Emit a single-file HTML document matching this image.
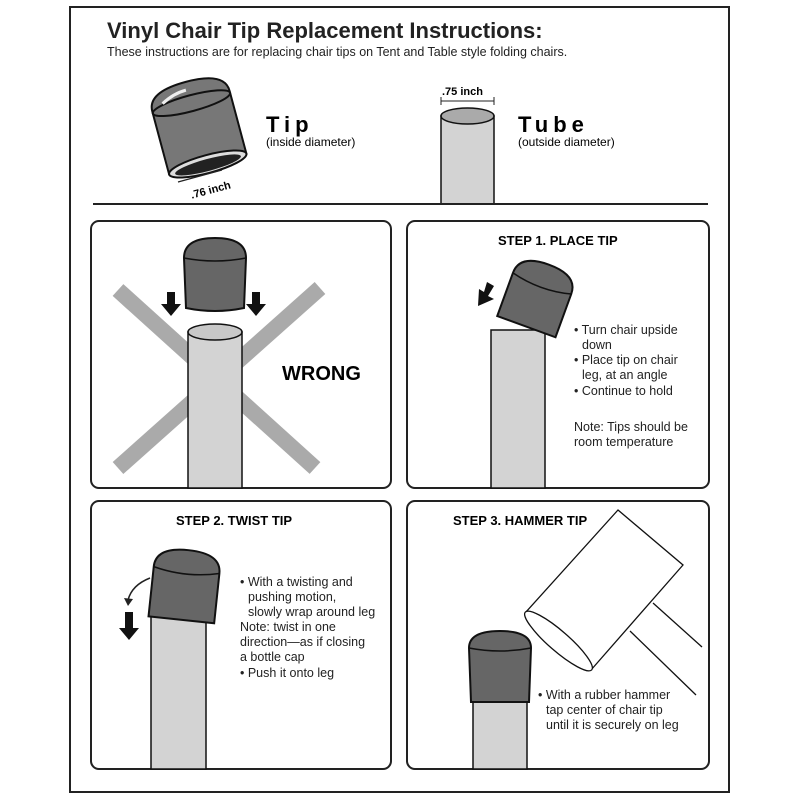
<!DOCTYPE html>
<html><head><style>
html,body{margin:0;padding:0;background:#fff;}
svg{display:block;font-family:"Liberation Sans",sans-serif;}
</style></head><body>
<svg width="800" height="800" viewBox="0 0 800 800" xmlns="http://www.w3.org/2000/svg">
<rect x="70" y="7" width="659" height="785" fill="none" stroke="#222" stroke-width="2"/>
<text x="107" y="38" font-size="22" font-weight="bold" fill="#222">Vinyl Chair Tip Replacement Instructions:</text>
<text x="107" y="56" font-size="12.5" fill="#222">These instructions are for replacing chair tips on Tent and Table style folding chairs.</text>
<!-- tip top -->
<g transform="rotate(-15 200 135)">
<path d="M160 100 Q160 80 200 80 Q240 80 240 100 L240 165 L160 165 Z" fill="#777" stroke="#111" stroke-width="2"/>
<ellipse cx="200" cy="102" rx="40" ry="8" fill="none" stroke="#111" stroke-width="2"/>
<ellipse cx="200" cy="165" rx="40" ry="9" fill="#ddd" stroke="#111" stroke-width="2"/>
<ellipse cx="200" cy="166" rx="34" ry="6" fill="#222"/>
<path d="M172 95 Q185 88 198 88" stroke="#eee" stroke-width="3" fill="none"/>
</g>
<line x1="178" y1="182" x2="222" y2="170" stroke="#222" stroke-width="1.2"/>
<text x="190" y="195" font-size="11" font-weight="bold" transform="rotate(-15 205 190)">.76 inch</text>
<text x="266" y="132" font-size="22" font-weight="bold" letter-spacing="5">Tip</text>
<text x="266" y="146" font-size="12">(inside diameter)</text>
<text x="442" y="95" font-size="11" font-weight="bold">.75 inch</text>
<line x1="441" y1="101" x2="494" y2="101" stroke="#222"/>
<line x1="441" y1="97" x2="441" y2="105" stroke="#222"/><line x1="494" y1="97" x2="494" y2="105" stroke="#222"/>
<rect x="441" y="116" width="53" height="88" fill="#d3d3d3" stroke="#111" stroke-width="1.5"/>
<ellipse cx="467.5" cy="116" rx="26.5" ry="8" fill="#aaa" stroke="#111" stroke-width="1.5"/>
<text x="518" y="132" font-size="22" font-weight="bold" letter-spacing="5">Tube</text>
<text x="518" y="146" font-size="12">(outside diameter)</text>
<line x1="93" y1="204" x2="708" y2="204" stroke="#222" stroke-width="2"/>
<!-- panels -->
<rect x="91" y="221" width="300" height="267" rx="8" fill="none" stroke="#222" stroke-width="2"/>
<rect x="407" y="221" width="302" height="267" rx="8" fill="none" stroke="#222" stroke-width="2"/>
<rect x="91" y="501" width="300" height="268" rx="8" fill="none" stroke="#222" stroke-width="2"/>
<rect x="407" y="501" width="302" height="268" rx="8" fill="none" stroke="#222" stroke-width="2"/>
<!-- wrong -->
<line x1="118" y1="290" x2="315" y2="468" stroke="#aaa" stroke-width="16"/>
<line x1="118" y1="468" x2="320" y2="288" stroke="#aaa" stroke-width="16"/>
<rect x="188" y="332" width="54" height="156" fill="#d3d3d3" stroke="#111" stroke-width="1.5"/>
<ellipse cx="215" cy="332" rx="27" ry="8" fill="#c8c8c8" stroke="#111" stroke-width="1.5"/>
<path d="M184 258 Q184 238 215 238 Q246 238 246 258 L244 308 Q215 314 186 308 Z" fill="#666" stroke="#111" stroke-width="2"/>
<path d="M184 258 Q215 264 246 258" fill="none" stroke="#111" stroke-width="1.5"/>
<path d="M167 292 h8 v12 h6 l-10 12 l-10 -12 h6 z" fill="#111"/>
<path d="M252 292 h8 v12 h6 l-10 12 l-10 -12 h6 z" fill="#111"/>
<text x="282" y="380" font-size="20" font-weight="bold">WRONG</text>
<!-- step1 -->
<text x="498" y="245" font-size="13" font-weight="bold">STEP 1. PLACE TIP</text>
<rect x="491" y="330" width="54" height="158" fill="#d3d3d3" stroke="#111" stroke-width="1.5"/>
<g transform="rotate(20 535 300)">
<path d="M505 282 Q505 262 536 262 Q567 262 567 282 L567 328 L505 328 Z" fill="#666" stroke="#111" stroke-width="2"/>
<path d="M505 282 Q536 290 567 282" fill="none" stroke="#111" stroke-width="1.5"/>
</g>
<path d="M487 282 l7 4 l-6 10 l6 3 l-16 7 l1 -17 l5 3 z" fill="#111"/>
<g font-size="12.5" fill="#222">
<text x="574" y="334">• Turn chair upside</text><text x="582" y="349">down</text>
<text x="574" y="364">• Place tip on chair</text><text x="582" y="379">leg, at an angle</text>
<text x="574" y="395">• Continue to hold</text>
<text x="574" y="431">Note: Tips should be</text><text x="574" y="446">room temperature</text>
</g>
<!-- step2 -->
<text x="176" y="525" font-size="13" font-weight="bold">STEP 2. TWIST TIP</text>
<rect x="151" y="612" width="55" height="157" fill="#d3d3d3" stroke="#111" stroke-width="1.5"/>
<g transform="rotate(6 185 585)">
<path d="M152 570 Q152 550 185 550 Q218 550 218 570 L218 620 L152 620 Z" fill="#666" stroke="#111" stroke-width="2"/>
<path d="M152 570 Q185 578 218 570" fill="none" stroke="#111" stroke-width="1.5"/>
</g>
<path d="M150 578 Q132 585 128 600" fill="none" stroke="#222" stroke-width="1.5"/>
<path d="M124 598 l4 8 l5 -7 z" fill="#222"/>
<path d="M125 612 h8 v16 h6 l-10 12 l-10 -12 h6 z" fill="#111"/>
<g font-size="12.5" fill="#222">
<text x="240" y="586">• With a twisting and</text><text x="248" y="601">pushing motion,</text>
<text x="248" y="616">slowly wrap around leg</text>
<text x="240" y="631">Note: twist in one</text><text x="240" y="646">direction—as if closing</text>
<text x="240" y="661">a bottle cap</text><text x="240" y="677">• Push it onto leg</text>
</g>
<!-- step3 -->
<text x="453" y="525" font-size="13" font-weight="bold">STEP 3. HAMMER TIP</text>
<rect x="473" y="702" width="54" height="67" fill="#d3d3d3" stroke="#111" stroke-width="1.5"/>
<path d="M469 648 Q469 631 500 631 Q531 631 531 648 L529 702 L471 702 Z" fill="#666" stroke="#111" stroke-width="2"/>
<path d="M469 648 Q500 654 531 648" fill="none" stroke="#111" stroke-width="1.5"/>
<g fill="#fff" stroke="#111" stroke-width="1.3">
<line x1="653" y1="603" x2="702" y2="647"/><line x1="630" y1="631" x2="696" y2="695"/>
<path d="M618 510 L683 565 L591 670 L526 612 Z"/>
<ellipse cx="558.5" cy="641" rx="44" ry="10" transform="rotate(41 558.5 641)"/>
</g>
<g font-size="12.5" fill="#222">
<text x="538" y="699">• With a rubber hammer</text><text x="546" y="714">tap center of chair tip</text>
<text x="546" y="729">until it is securely on leg</text>
</g>
</svg>
</body></html>
